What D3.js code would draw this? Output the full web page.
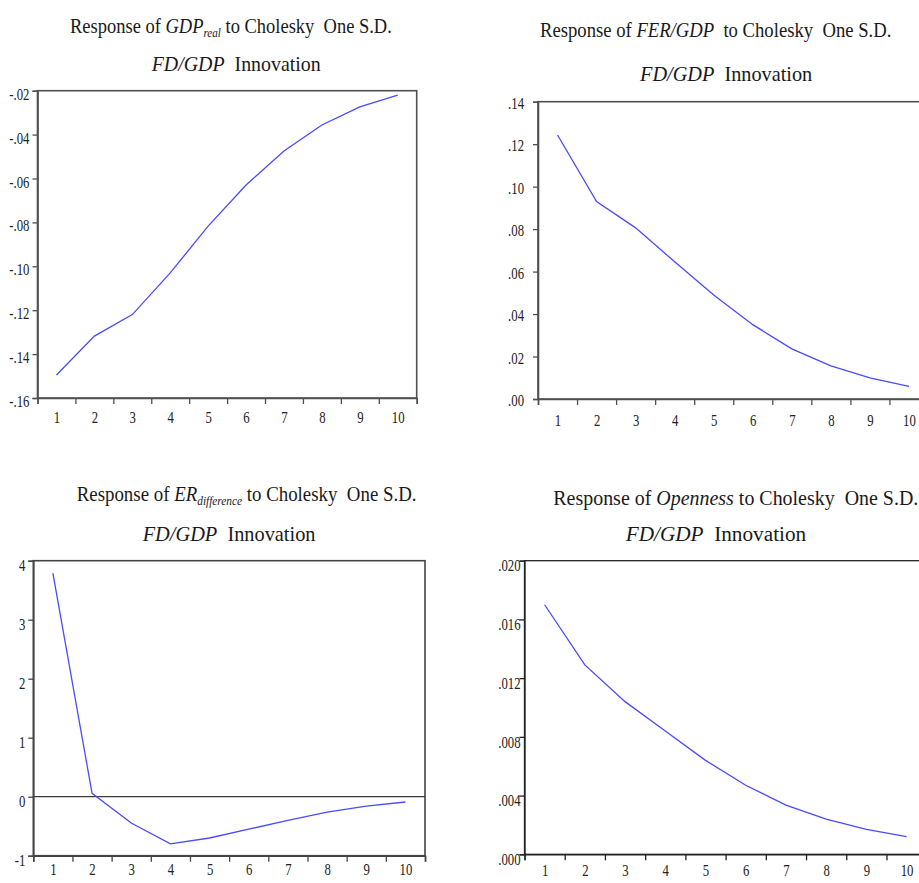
<!DOCTYPE html>
<html>
<head>
<meta charset="utf-8">
<script src="https://cdn.jsdelivr.net/npm/d3@7"></script>
<style>
  html, body { margin: 0; padding: 0; background: #fff; }
  svg { display: block; }
  text { font-family: "Liberation Serif", "Times New Roman", serif; white-space: pre; }
</style>
</head>
<body>
<svg id="chart" width="919" height="883"></svg>
<script>
// ---------------- DATA ----------------
const periods = [1, 2, 3, 4, 5, 6, 7, 8, 9, 10];
const gdpReal  = [-0.1495, -0.1318, -0.1220, -0.1030, -0.0817, -0.0630, -0.0475, -0.0356, -0.0274, -0.0220];
const ferGdp   = [0.1243, 0.0930, 0.0806, 0.0646, 0.0490, 0.0350, 0.0236, 0.0156, 0.0100, 0.0059];
const erDiff   = [3.79, 0.058, -0.446, -0.80, -0.70, -0.55, -0.40, -0.26, -0.16, -0.09];
const openness = [0.0170, 0.0129, 0.0104, 0.0084, 0.0064, 0.0047, 0.00335, 0.0024, 0.0017, 0.0012];

const gdpTicks  = [-0.16, -0.14, -0.12, -0.10, -0.08, -0.06, -0.04, -0.02];
const ferTicks  = [0.00, 0.02, 0.04, 0.06, 0.08, 0.10, 0.12, 0.14];
const erTicks   = [-1, 0, 1, 2, 3, 4];
const openTicks = [0.000, 0.004, 0.008, 0.012, 0.016, 0.020];

// ---------------- HELPERS ----------------
const svg = d3.select("#chart");
// EViews style: plain hyphen minus, no leading zero
const evFmt = digits => d => {
  const s = Math.abs(d).toFixed(digits).replace(/^0\./, ".");
  return (d < 0 ? "-" : "") + s;
};
const LINE_COLOR = "#4a4aff";

function drawTitle(parts, x0, x1, baseline) {
  const g = svg.append("g");
  const t = g.append("text").attr("x", 0).attr("y", 0)
    .attr("font-size", 20).attr("fill", "#1a1a1a");
  let subbed = false;
  parts.forEach(p => {
    const ts = t.append("tspan").text(p.t);
    if (p.i) ts.attr("font-style", "italic");
    if (p.sub) { ts.attr("font-size", 12).attr("dy", 4); subbed = true; }
    else if (subbed) { ts.attr("dy", -4); subbed = false; }
  });
  const w = t.node().getBBox().width;
  g.attr("transform", `translate(${x0},${baseline}) scale(${(x1 - x0) / w},1)`);
}

function condense(sel, k) {
  sel.each(function () {
    const len = this.getComputedTextLength();
    if (len > 0) {
      d3.select(this).attr("textLength", len * k).attr("lengthAdjust", "spacingAndGlyphs");
    }
  });
}

function panel(cfg) {
  const x = d3.scaleLinear().domain([0.5, 10.5]).range([cfg.left, cfg.right]);
  const y = d3.scaleLinear().domain(cfg.yDomain).range([cfg.bottom, cfg.top]);
  const g = svg.append("g");

  // frame
  g.append("rect")
    .attr("x", cfg.left).attr("y", cfg.top)
    .attr("width", cfg.right - cfg.left).attr("height", cfg.bottom - cfg.top)
    .attr("fill", "none").attr("stroke", cfg.frame).attr("stroke-width", cfg.frameW);

  // y axis
  const ya = g.append("g").attr("transform", `translate(${cfg.left},0)`)
    .call(d3.axisLeft(y).tickValues(cfg.ticks).tickSize(5).tickPadding(cfg.yPad)
      .tickFormat(cfg.fmt));
  ya.attr("font-family", null);
  ya.select(".domain").attr("stroke", cfg.frame).attr("stroke-width", cfg.frameW);
  ya.selectAll(".tick line").attr("stroke", cfg.frame).attr("stroke-width", 1.3);
  ya.selectAll(".tick text").attr("font-size", 17).attr("fill", "#222")
    .attr("dy", cfg.yDy);
  condense(ya.selectAll(".tick text"), 0.75);

  // x axis: tick marks at period boundaries
  const bounds = d3.range(0.5, 11, 1);
  const xa = g.append("g").attr("transform", `translate(0,${cfg.bottom})`)
    .call(d3.axisBottom(x).tickValues(bounds).tickSize(6).tickFormat(""));
  xa.select(".domain").attr("stroke", cfg.frame).attr("stroke-width", cfg.frameW);
  xa.selectAll(".tick line").attr("stroke", cfg.frame).attr("stroke-width", 1.3);

  // x labels at period centres
  const xl = g.append("g").attr("transform", `translate(0,${cfg.bottom})`)
    .call(d3.axisBottom(x).tickValues(periods).tickSize(0).tickPadding(cfg.xPad)
      .tickFormat(d3.format("d")));
  xl.attr("font-family", null);
  xl.select(".domain").remove();
  xl.selectAll(".tick text").attr("font-size", 17).attr("fill", "#222");
  condense(xl.selectAll(".tick text"), 0.75);

  if (cfg.zero) {
    g.append("line")
      .attr("x1", cfg.left).attr("x2", cfg.right)
      .attr("y1", y(0)).attr("y2", y(0))
      .attr("stroke", "#3a3a3a").attr("stroke-width", 1.3);
  }

  const line = d3.line().x((d, i) => x(periods[i])).y(d => y(d));
  g.append("path").datum(cfg.values)
    .attr("d", line).attr("fill", "none")
    .attr("stroke", LINE_COLOR).attr("stroke-width", 1.3);

  drawTitle(cfg.title1, cfg.t1[0], cfg.t1[1], cfg.t1[2]);
  drawTitle(cfg.title2, cfg.t2[0], cfg.t2[1], cfg.t2[2]);
}

const line2 = [{ t: "FD/GDP", i: true }, { t: "  Innovation" }];

panel({
  left: 37.5, right: 416.7, top: 90.7, bottom: 398,
  yDomain: [-0.16, -0.02], ticks: gdpTicks, fmt: evFmt(2),
  values: gdpReal, frame: "#505050", frameW: 1.6, yPad: 3, yDy: "0.5em", xPad: 13,
  title1: [{ t: "Response of " }, { t: "GDP", i: true }, { t: "real", i: true, sub: true }, { t: " to Cholesky  One S.D." }],
  t1: [70, 392, 33], title2: line2, t2: [151.7, 321.7, 70.7]
});

panel({
  left: 538, right: 928.5, top: 101.7, bottom: 399,
  yDomain: [0, 0.14], ticks: ferTicks, fmt: evFmt(2),
  values: ferGdp, frame: "#505050", frameW: 1.6, yPad: 9, yDy: "0.4em", xPad: 15,
  title1: [{ t: "Response of " }, { t: "FER/GDP", i: true }, { t: "  to Cholesky  One S.D." }],
  t1: [540, 891.7, 37.3], title2: line2, t2: [640, 813.3, 81]
});

panel({
  left: 33.3, right: 425, top: 560.7, bottom: 855.7,
  yDomain: [-1, 4], ticks: erTicks, fmt: d => (d < 0 ? "-" : "") + Math.abs(d),
  values: erDiff, frame: "#444", frameW: 1.6, yPad: 3, yDy: "0.6em", xPad: 7, zero: true,
  title1: [{ t: "Response of " }, { t: "ER", i: true }, { t: "difference", i: true, sub: true }, { t: " to Cholesky  One S.D." }],
  t1: [76.7, 416.7, 500.7], title2: line2, t2: [142.7, 316.7, 540.7]
});

panel({
  left: 524.5, right: 926.7, top: 560.7, bottom: 854.3,
  yDomain: [0, 0.02], ticks: openTicks, fmt: evFmt(3),
  values: openness, frame: "#222", frameW: 1.3, yPad: -1, yDy: "0.6em", xPad: 10,
  title1: [{ t: "Response of " }, { t: "Openness", i: true }, { t: " to Cholesky  One S.D." }],
  t1: [553.3, 918.3, 505], title2: line2, t2: [625.7, 807.3, 541]
});
</script>
</body>
</html>
